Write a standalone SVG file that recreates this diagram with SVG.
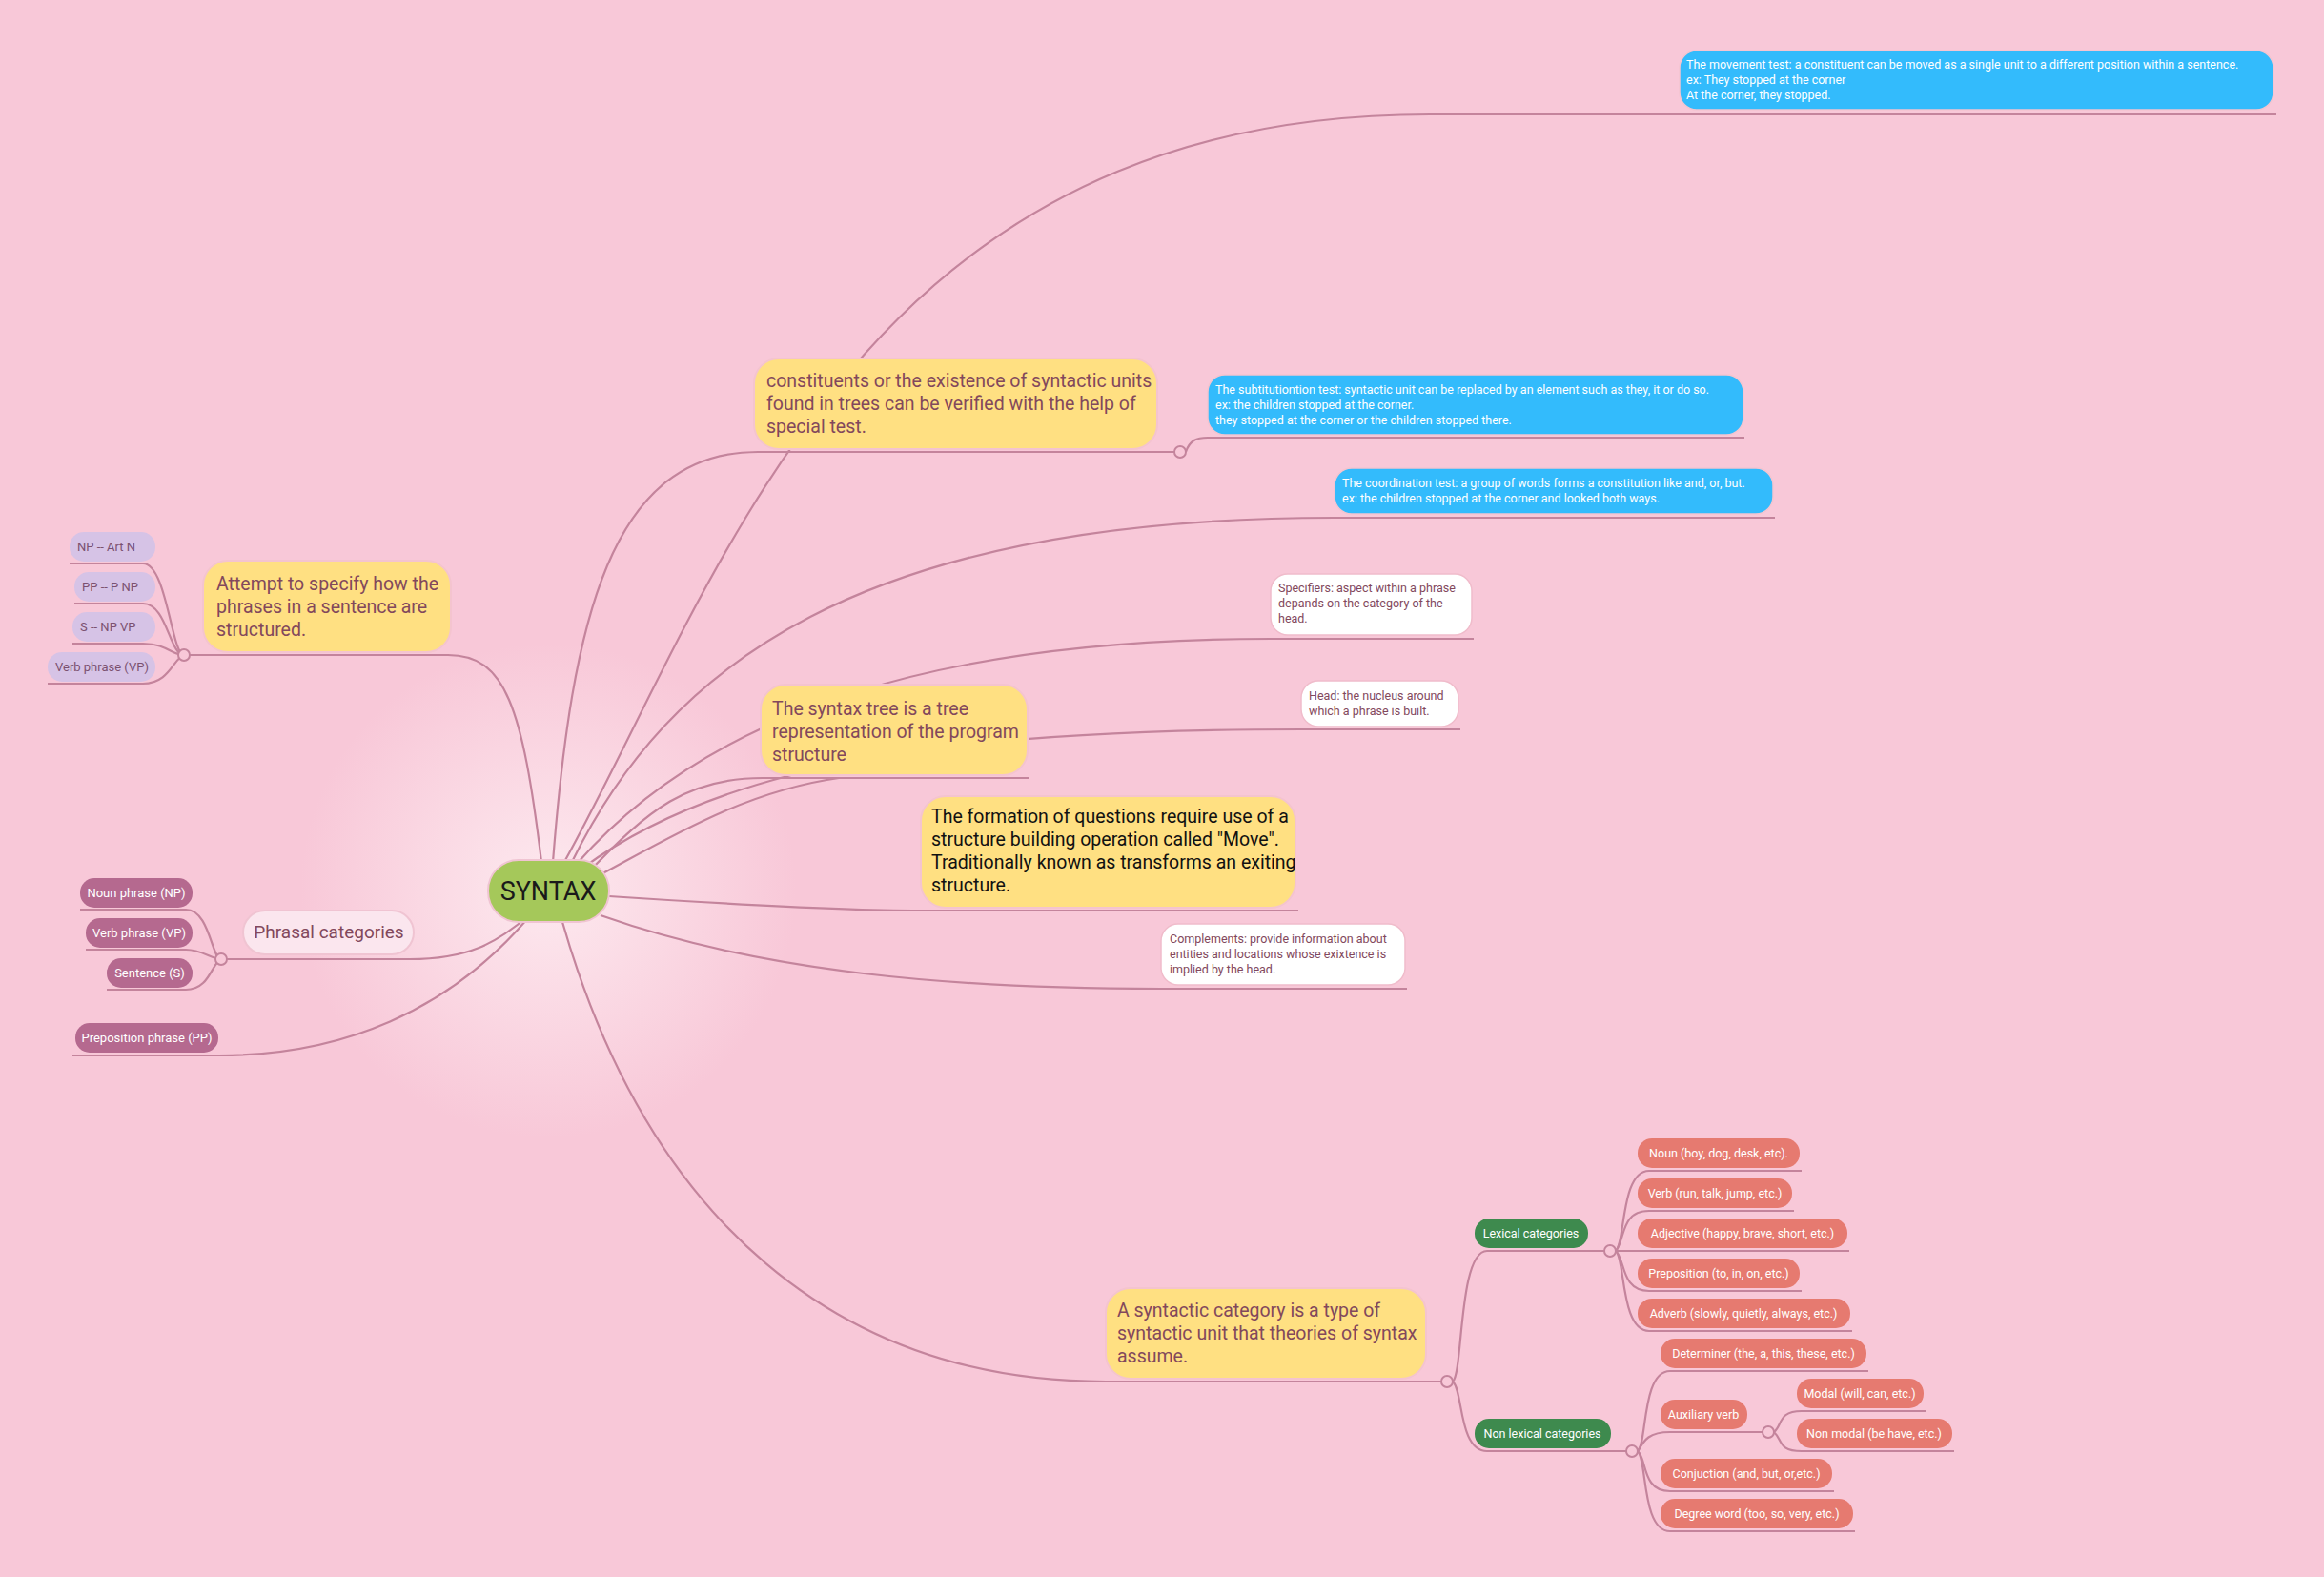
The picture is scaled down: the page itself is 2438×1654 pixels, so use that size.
<svg xmlns="http://www.w3.org/2000/svg" width="2438" height="1654" viewBox="0 0 2438 1654">
<defs>
<radialGradient id="glow" cx="575" cy="934" r="260" gradientUnits="userSpaceOnUse">
<stop offset="0" stop-color="#fde9ef"/><stop offset="1" stop-color="#f8c8d8"/>
</radialGradient>
<style>
text{font-family:Roboto,"Liberation Sans",sans-serif}
.ln{fill:none;stroke:#c4849c;stroke-width:2.2}
.jn{fill:#f8c8d8;stroke:#c4849c;stroke-width:2}
.yel{fill:#ffe082;stroke:#f4c4cf;stroke-width:2}
.yt{font-size:19.5px;fill:#82485c}
.blue{fill:#33bbfc;stroke:#f4c4cf;stroke-width:1.5}
.bt{font-size:12.5px;fill:#ffffff}
.wht{fill:#ffffff;stroke:#f0bccb;stroke-width:1.5}
.wt{font-size:12.5px;fill:#82485c}
.pur{fill:#d6c3e6}
.pt{font-size:13px;fill:#7b5170}
.mau{fill:#b5698f}
.mt{font-size:13px;fill:#ffffff}
.grn{fill:#3e8a4e}
.sal{fill:#e67a70}
.st{font-size:12.5px;fill:#ffffff}
</style>
</defs>
<rect width="2438" height="1654" fill="#f8c8d8"/>
<circle cx="575" cy="934" r="260" fill="url(#glow)"/>
<g id="connectors">
<path class="ln" d="M568,904 C548,740 530,687 470,687 L193,687"/>
<path class="ln" d="M193,687 C180,687 175,591 150,591 L73,591"/>
<path class="ln" d="M193,687 C178,687 175,633 150,633 L78,633"/>
<path class="ln" d="M193,687 C180,687 175,675 150,675 L76,675"/>
<path class="ln" d="M193,687 C182,690 178,717 150,717 L50,717"/>
<path class="ln" d="M555,960 C520,990 490,1006 430,1006 L232,1006"/>
<path class="ln" d="M232,1006 C222,1006 220,954 195,954 L84,954"/>
<path class="ln" d="M232,1006 C222,1006 212,996 195,996 L90,996"/>
<path class="ln" d="M232,1006 C222,1010 220,1038 195,1038 L112,1038"/>
<path class="ln" d="M553,964 C470,1060 360,1107 230,1107 L76,1107"/>
<path class="ln" d="M580,904 C600,650 640,474 795,474 L1232,474"/>
<path class="ln" d="M1244,474 C1248,462 1255,459 1267,459 L1830,459"/>
<circle class="jn" cx="1238" cy="474" r="6"/>
<path class="ln" d="M592,904 C760,600 900,120 1500,120 L2388,120"/>
<path class="ln" d="M600,904 C700,700 900,543 1400,543 L1862,543"/>
<path class="ln" d="M605,906 C750,740 1000,670 1333,670 L1546,670"/>
<path class="ln" d="M612,910 C760,800 1000,765 1365,765 L1532,765"/>
<path class="ln" d="M620,912 C680,850 720,816 800,816 L1080,816"/>
<path class="ln" d="M625,920 C700,880 780,830 880,816"/>
<path class="ln" d="M639,940 C760,948 880,955 966,955 L1362,955"/>
<path class="ln" d="M630,960 C800,1020 1000,1037 1218,1037 L1476,1037"/>
<path class="ln" d="M590,967 C680,1280 880,1449 1160,1449 L1512,1449"/>
<path class="ln" d="M1524,1449 C1535,1440 1530,1312 1560,1312 L1683,1312"/>
<path class="ln" d="M1524,1449 C1535,1458 1530,1522 1560,1522 L1706,1522"/>
<circle class="jn" cx="1518" cy="1449" r="6"/>
<path class="ln" d="M1695,1312 C1705,1305 1700,1228 1730,1228 L1890,1228"/>
<path class="ln" d="M1695,1312 C1705,1300 1700,1270 1730,1270 L1882,1270"/>
<path class="ln" d="M1695,1312 L1940,1312"/>
<path class="ln" d="M1695,1312 C1705,1320 1700,1354 1730,1354 L1890,1354"/>
<path class="ln" d="M1695,1312 C1705,1320 1700,1396 1730,1396 L1943,1396"/>
<circle class="jn" cx="1689" cy="1312" r="6"/>
<path class="ln" d="M1718,1522 C1728,1515 1722,1438 1752,1438 L1960,1438"/>
<path class="ln" d="M1718,1522 C1725,1510 1730,1502 1752,1502 L1849,1502"/>
<path class="ln" d="M1861,1502 C1870,1495 1865,1480 1890,1480 L2020,1480"/>
<path class="ln" d="M1861,1502 C1870,1510 1865,1522 1890,1522 L2050,1522"/>
<circle class="jn" cx="1855" cy="1502" r="6"/>
<path class="ln" d="M1718,1522 C1728,1530 1722,1564 1752,1564 L1924,1564"/>
<path class="ln" d="M1718,1522 C1728,1530 1722,1606 1752,1606 L1946,1606"/>
<circle class="jn" cx="1712" cy="1522" r="6"/>
<circle class="jn" cx="193" cy="687" r="6"/>
<circle class="jn" cx="232" cy="1006" r="6"/>
</g>
<g id="syntax"><rect x="512" y="902" width="127" height="65" rx="32" fill="#a5c85a" stroke="#f0c4d2" stroke-width="2"/><text x="575" y="944" font-size="27" text-anchor="middle" fill="#1a1a1a">SYNTAX</text></g>
<g id="attempt"><rect class="yel" x="213" y="588" width="260" height="96" rx="26"/><text class="yt" x="227"><tspan x="227" y="619">Attempt to specify how the</tspan><tspan x="227" y="643">phrases in a sentence are</tspan><tspan x="227" y="667">structured.</tspan></text></g>
<g id="np-art"><rect class="pur" x="73" y="558" width="90" height="31" rx="15"/><text class="pt" x="81" y="578">NP --   Art  N</text></g>
<g id="pp-p"><rect class="pur" x="78" y="600" width="85" height="31" rx="15"/><text class="pt" x="86" y="620">PP --   P  NP</text></g>
<g id="s-np"><rect class="pur" x="76" y="642" width="87" height="31" rx="15"/><text class="pt" x="84" y="662">S --   NP  VP</text></g>
<g id="vp1"><rect class="pur" x="50" y="684" width="113" height="31" rx="15"/><text class="pt" x="58" y="704">Verb phrase (VP)</text></g>
<g id="phrasal"><rect x="255" y="955" width="179" height="46" rx="23" fill="#fbe6ee" stroke="#f0c4d2" stroke-width="2"/><text x="345" y="984" font-size="19" text-anchor="middle" fill="#82485c">Phrasal categories</text></g>
<g id="np"><rect class="mau" x="84" y="921" width="118" height="31" rx="15"/><text class="mt" x="143" y="941" text-anchor="middle">Noun phrase (NP)</text></g>
<g id="vp2"><rect class="mau" x="90" y="963" width="112" height="31" rx="15"/><text class="mt" x="146" y="983" text-anchor="middle">Verb phrase (VP)</text></g>
<g id="sent"><rect class="mau" x="112" y="1005" width="90" height="31" rx="15"/><text class="mt" x="157" y="1025" text-anchor="middle">Sentence (S)</text></g>
<g id="pp"><rect class="mau" x="79" y="1073" width="150" height="31" rx="15"/><text class="mt" x="154" y="1093" text-anchor="middle">Preposition phrase (PP)</text></g>
<g id="constituents"><rect class="yel" x="791" y="376" width="423" height="95" rx="26"/><text class="yt"><tspan x="804" y="406">constituents or the existence of syntactic units</tspan><tspan x="804" y="430">found in trees can be verified with the help of</tspan><tspan x="804" y="454">special test.</tspan></text></g>
<g id="movement"><rect class="blue" x="1762" y="53" width="623" height="62" rx="18"/><text class="bt"><tspan x="1769" y="72">The movement test: a constituent can be moved as a single unit to a different position within a sentence.</tspan><tspan x="1769" y="88">ex: They stopped at the corner</tspan><tspan x="1769" y="104">At the corner, they stopped.</tspan></text></g>
<g id="substitution"><rect class="blue" x="1267" y="393" width="562" height="63" rx="18"/><text class="bt"><tspan x="1275" y="413">The subtitutiontion test: syntactic unit can be replaced by an element such as they, it or do so.</tspan><tspan x="1275" y="429">ex: the children stopped at the corner.</tspan><tspan x="1275" y="445">they stopped at the corner or the children stopped there.</tspan></text></g>
<g id="coordination"><rect class="blue" x="1400" y="491" width="460" height="48" rx="18"/><text class="bt"><tspan x="1408" y="511">The coordination test: a group of words forms a constitution like and, or, but.</tspan><tspan x="1408" y="527">ex: the children stopped at the corner and looked both ways.</tspan></text></g>
<g id="specifiers"><rect class="wht" x="1333" y="602" width="211" height="64" rx="18"/><text class="wt"><tspan x="1341" y="621">Specifiers: aspect within a phrase</tspan><tspan x="1341" y="637">depands on the category of the</tspan><tspan x="1341" y="653">head.</tspan></text></g>
<g id="head"><rect class="wht" x="1365" y="714" width="165" height="48" rx="18"/><text class="wt"><tspan x="1373" y="734">Head: the nucleus around</tspan><tspan x="1373" y="750">which a phrase is built.</tspan></text></g>
<g id="tree"><rect class="yel" x="798" y="718" width="280" height="95" rx="26"/><text class="yt"><tspan x="810" y="750">The syntax tree is a tree</tspan><tspan x="810" y="774">representation of the program</tspan><tspan x="810" y="798">structure</tspan></text></g>
<g id="formation"><rect class="yel" x="966" y="835" width="393" height="117" rx="26"/><text font-size="19.5" fill="#111"><tspan x="977" y="863">The formation of questions require use of a</tspan><tspan x="977" y="887">structure building operation called "Move".</tspan><tspan x="977" y="911">Traditionally known as transforms an exiting</tspan><tspan x="977" y="935">structure.</tspan></text></g>
<g id="complements"><rect class="wht" x="1218" y="969" width="256" height="64" rx="18"/><text class="wt"><tspan x="1227" y="989">Complements: provide information about</tspan><tspan x="1227" y="1005">entities and locations whose exixtence is</tspan><tspan x="1227" y="1021">implied by the head.</tspan></text></g>
<g id="category"><rect class="yel" x="1160" y="1351" width="336" height="95" rx="26"/><text class="yt"><tspan x="1172" y="1381">A syntactic category is a type of</tspan><tspan x="1172" y="1405">syntactic unit that theories of syntax</tspan><tspan x="1172" y="1429">assume.</tspan></text></g>
<g id="lexical"><rect class="grn" x="1547" y="1278" width="119" height="31" rx="15"/><text class="st" x="1606" y="1298" text-anchor="middle">Lexical categories</text></g>
<g id="nonlexical"><rect class="grn" x="1547" y="1488" width="143" height="31" rx="15"/><text class="st" x="1618" y="1508" text-anchor="middle">Non lexical categories</text></g>
<g id="noun"><rect class="sal" x="1718" y="1194" width="170" height="31" rx="15"/><text class="st" x="1803" y="1214" text-anchor="middle">Noun (boy, dog, desk, etc).</text></g>
<g id="verb"><rect class="sal" x="1718" y="1236" width="162" height="31" rx="15"/><text class="st" x="1799" y="1256" text-anchor="middle">Verb (run, talk, jump, etc.)</text></g>
<g id="adj"><rect class="sal" x="1718" y="1278" width="220" height="31" rx="15"/><text class="st" x="1828" y="1298" text-anchor="middle">Adjective (happy, brave, short, etc.)</text></g>
<g id="prep"><rect class="sal" x="1718" y="1320" width="170" height="31" rx="15"/><text class="st" x="1803" y="1340" text-anchor="middle">Preposition (to, in, on, etc.)</text></g>
<g id="adv"><rect class="sal" x="1718" y="1362" width="223" height="31" rx="15"/><text class="st" x="1829" y="1382" text-anchor="middle">Adverb (slowly, quietly, always, etc.)</text></g>
<g id="det"><rect class="sal" x="1742" y="1404" width="216" height="31" rx="15"/><text class="st" x="1850" y="1424" text-anchor="middle">Determiner (the, a, this, these, etc.)</text></g>
<g id="aux"><rect class="sal" x="1742" y="1468" width="91" height="31" rx="15"/><text class="st" x="1787" y="1488" text-anchor="middle">Auxiliary verb</text></g>
<g id="modal"><rect class="sal" x="1885" y="1446" width="133" height="31" rx="15"/><text class="st" x="1951" y="1466" text-anchor="middle">Modal (will, can, etc.)</text></g>
<g id="nonmodal"><rect class="sal" x="1885" y="1488" width="163" height="31" rx="15"/><text class="st" x="1966" y="1508" text-anchor="middle">Non modal (be have, etc.)</text></g>
<g id="conj"><rect class="sal" x="1742" y="1530" width="180" height="31" rx="15"/><text class="st" x="1832" y="1550" text-anchor="middle">Conjuction (and, but, or,etc.)</text></g>
<g id="degree"><rect class="sal" x="1742" y="1572" width="202" height="31" rx="15"/><text class="st" x="1843" y="1592" text-anchor="middle">Degree word (too, so, very, etc.)</text></g>
</svg>
